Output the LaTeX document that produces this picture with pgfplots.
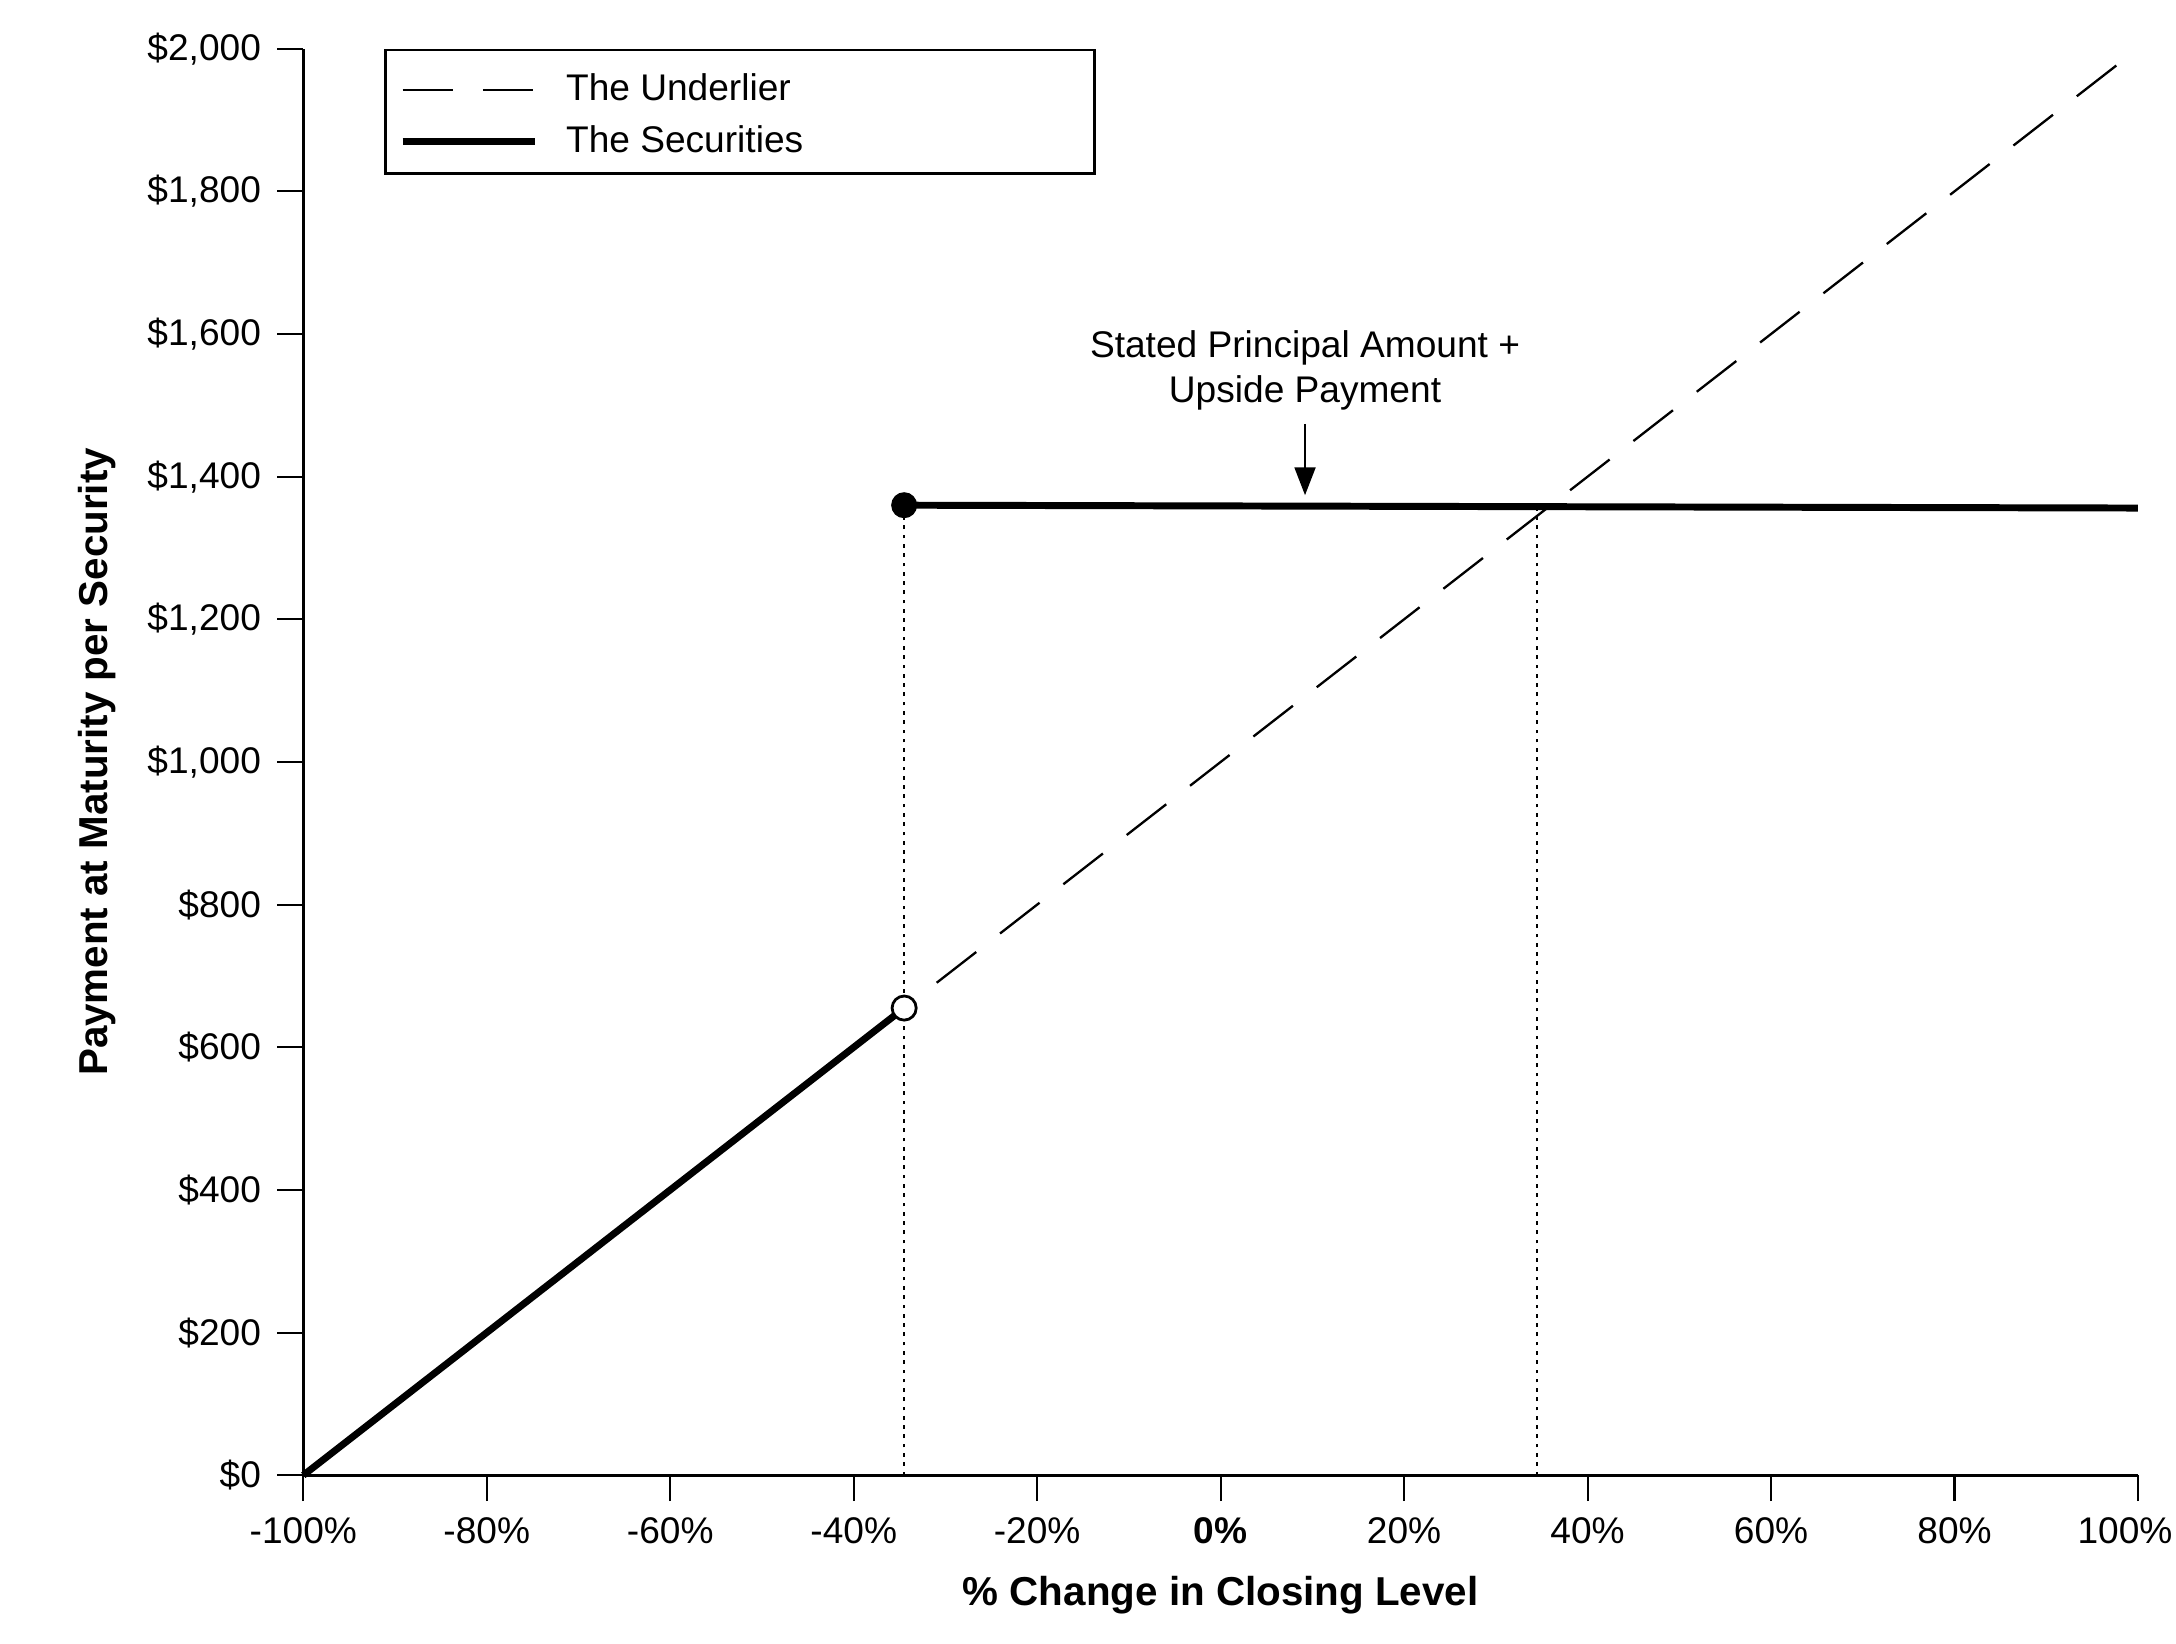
\documentclass[border=0pt]{standalone}
\usepackage{fontspec}
\setmainfont{Liberation Sans}
\usepackage{pgfplots}
\pgfplotsset{compat=1.18}
\usetikzlibrary{arrows.meta}
\pgfplotsset{legend image code/.code={\draw[#1] (0pt,-0.9pt) -- (28.5pt,-0.9pt);}}
\begin{document}
\begin{tikzpicture}
\path[use as bounding box] (0,0) rectangle (469.2pt,354.3pt);
\begin{axis}[
 at={(65.4pt,36.2pt)}, anchor=south west,
 scale only axis, width=395.6pt, height=307.6pt,
 xmin=-100, xmax=100, ymin=0, ymax=2000,
 clip=false,
 axis lines*=left,
 axis line style={line width=0.7pt},
 tick align=outside,
 major tick length=5.6pt,
 tick style={line width=0.45pt, black},
 xtick={-100,-80,...,100},
 xticklabels={-100\%,-80\%,-60\%,-40\%,-20\%,\textbf{0\%},20\%,40\%,60\%,80\%,\hspace*{-5.6pt}100\%},
 ytick={0,200,...,2000},
 yticklabels={\$0,\$200,\$400,\$600,\$800,{\$1,000},{\$1,200},{\$1,400},{\$1,600},{\$1,800},{\$2,000}},
 tick label style={font=\fontsize{8}{9.6}\selectfont},
 xlabel={\% Change in Closing Level},
 ylabel={Payment at Maturity per Security},
 every axis x label/.style={at={(rel axis cs:0.5,-0.0838)},anchor=center,font=\fontsize{8.7}{10}\selectfont\bfseries},
 every axis y label/.style={at={(rel axis cs:-0.1125,0.5)},rotate=90,anchor=center,font=\fontsize{8.7}{10}\selectfont\bfseries},
 legend style={at={(rel axis cs:0.0439,1)}, anchor=north west, draw=black, line width=0.6pt,
   inner xsep=3pt, inner ysep=4pt, row sep=3.6pt, column sep=6pt,
   font=\fontsize{8}{9.6}\selectfont,
   nodes={inner sep=0pt, text height=6.9pt, text depth=0.6pt}},
 legend cell align=left,
 unbounded coords=jump,
]
\addplot[forget plot, black, line width=0.5pt, dash pattern=on 0.8pt off 1.2pt] coordinates {(-34.5,0) (-34.5,1360)};
\addplot[forget plot, black, line width=0.5pt, dash pattern=on 0.8pt off 1.2pt] coordinates {(34.5,0) (34.5,1358)};
\addplot[black, line width=0.5pt, dash pattern=on 10.8pt off 6.5pt] coordinates {(-100,0) (100,2000)};
\addlegendentry{\makebox[111pt][l]{The Underlier}}
\addplot[black, line width=1.5pt] coordinates {(-100,0) (-34.5,655) (-34.5,nan) (-34.5,1360) (100,1356)};
\addlegendentry{\makebox[111pt][l]{The Securities}}
\addplot[forget plot, only marks, mark=*, mark size=2.6pt, mark options={fill=black, draw=black}] coordinates {(-34.5,1360)};
\addplot[forget plot, only marks, mark=*, mark size=2.6pt, mark options={fill=white, draw=black, line width=0.6pt}] coordinates {(-34.5,655)};
\node[align=center, font=\fontsize{8}{9.6}\selectfont, inner sep=0pt] at (axis cs:9.2,1549) {Stated Principal Amount +\\Upside Payment};
\draw[line width=0.5pt, -{Triangle[width=4.5pt,length=6pt]}] (axis cs:9.2,1474) -- (axis cs:9.2,1374);
\end{axis}
\end{tikzpicture}
\end{document}
